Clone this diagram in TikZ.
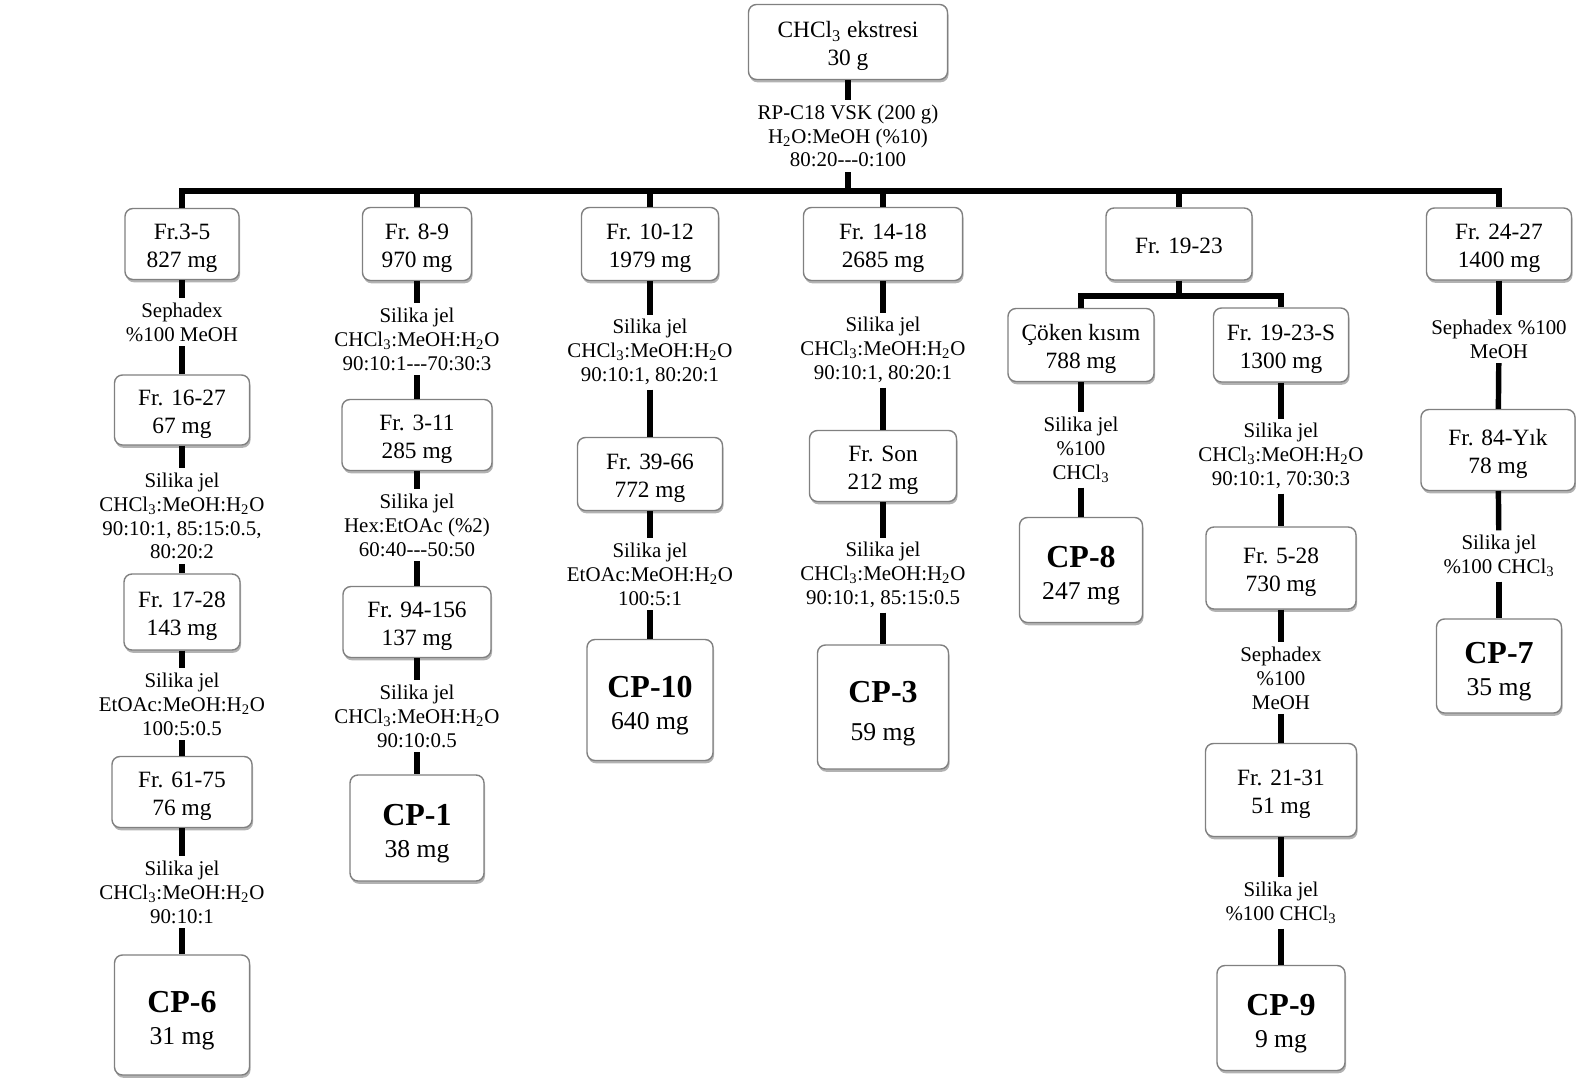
\documentclass[tikz,border=0pt]{standalone}
\usepackage{fontspec}
\setmainfont{Liberation Serif}
\usetikzlibrary{shadows}

\newcommand\boxfont{\fontsize{13.3}{15.9}\selectfont}
\newcommand\lblfont{\fontsize{11.9}{13.6}\selectfont}
\newcommand\cpfont{\fontsize{14.6}{18.2}\selectfont}
\newcommand\cpname[1]{{\fontsize{18.2}{18.2}\selectfont\bfseries #1}}
\newcommand\chcl{CHCl\textsubscript{3}}
\newcommand\hoh{H\textsubscript{2}O}
\newcommand\tridash{\mbox{-}\mbox{-}\mbox{-}}

\begin{document}
\begin{tikzpicture}[
        x=0.02cm, y=-0.02cm,
        every node/.style={align=center},
        frame/.style={
            draw=black!50,
            line width=0.8pt,
            rounded corners=4.5pt,
            fill=white,
            inner sep=0pt,
            font=\boxfont,
            drop shadow={shadow xshift=0.6pt, shadow yshift=-1.6pt, fill=black, opacity=0.3}
        },
        box/.style={frame, execute at begin node={\rule{0pt}{29.5pt}}},
        onebox/.style={frame, execute at begin node={\rule{0pt}{11.5pt}}},
        cp/.style={frame, font=\cpfont, execute at begin node={\rule{0pt}{36.5pt}}},
        lbl/.style={inner sep=2.5pt, font=\lblfont},
        conn/.style={line width=3.1pt},
        sz/.style 2 args={minimum width=#1*0.02cm, minimum height=#2*0.02cm}
    ]
        \useasboundingbox (0,0) rectangle (1576,1078);

        \node[box, sz={199}{75}] (top) at (848,42) {\chcl{} ekstresi\\30 g};
        \node[lbl] (rp) at (848,136) {RP-C18 VSK (200 g)\\\hoh:MeOH (\%10)\\80:20\tridash0:100};
        \coordinate (bus) at (848,191);

        \node[box, sz={114}{71}] (a1) at (182,244) {Fr.3-5\\827 mg};
        \node[lbl] (a1s) at (182,322) {Sephadex\\\%100 MeOH};
        \node[box, sz={135}{70}] (a2) at (182,410) {Fr. 16-27\\67 mg};
        \node[lbl] (a2s) at (182,516) {Silika jel\\\chcl:MeOH:\hoh\\90:10:1, 85:15:0.5,\\80:20:2};
        \node[box, sz={116}{76}] (a3) at (182,612) {Fr. 17-28\\143 mg};
        \node[lbl] (a3s) at (182,704) {Silika jel\\EtOAc:MeOH:\hoh\\100:5:0.5};
        \node[box, sz={140}{71}] (a4) at (182,792) {Fr. 61-75\\76 mg};
        \node[lbl] (a4s) at (182,892) {Silika jel\\\chcl:MeOH:\hoh\\90:10:1};
        \node[cp, sz={135}{120}] (cp6) at (182,1015) {\cpname{CP-6}\\31 mg};

        \node[box, sz={109}{73}] (b1) at (417,244) {Fr. 8-9\\970 mg};
        \node[lbl] (b1s) at (417,339) {Silika jel\\\chcl:MeOH:\hoh\\90:10:1\tridash70:30:3};
        \node[box, sz={150}{71}] (b2) at (417,435) {Fr. 3-11\\285 mg};
        \node[lbl] (b2s) at (417,525) {Silika jel\\Hex:EtOAc (\%2)\\60:40\tridash50:50};
        \node[box, sz={148}{71}] (b3) at (417,622) {Fr. 94-156\\137 mg};
        \node[lbl] (b3s) at (417,716) {Silika jel\\\chcl:MeOH:\hoh\\90:10:0.5};
        \node[cp, sz={134}{106}] (cp1) at (417,828) {\cpname{CP-1}\\38 mg};

        \node[box, sz={137}{73}] (c1) at (650,244) {Fr. 10-12\\1979 mg};
        \node[lbl] (c1s) at (650,352) {Silika jel\\\chcl:MeOH:\hoh\\90:10:1, 80:20:1};
        \node[box, sz={145}{73}] (c2) at (650,474) {Fr. 39-66\\772 mg};
        \node[lbl] (c2s) at (650,574) {Silika jel\\EtOAc:MeOH:\hoh\\100:5:1};
        \node[cp, sz={126}{121}] (cp10) at (650,700) {\cpname{CP-10}\\640 mg};

        \node[box, sz={159}{73}] (d1) at (883,244) {Fr. 14-18\\2685 mg};
        \node[lbl] (d1s) at (883,350) {Silika jel\\\chcl:MeOH:\hoh\\90:10:1, 80:20:1};
        \node[box, sz={147}{71}] (d2) at (883,466) {Fr. Son\\212 mg};
        \node[lbl] (d2s) at (883,575) {Silika jel\\\chcl:MeOH:\hoh\\90:10:1, 85:15:0.5};
        \node[cp, sz={131}{124}, execute at begin node={\rule{0pt}{41.5pt}}] (cp3) at (883,707) {\cpname{CP-3}\\[3.4pt]59 mg};

        \node[onebox, sz={146}{72}] (e1) at (1179,244) {Fr. 19-23};
        \coordinate (sub) at (1179,296);
        \node[box, sz={146}{73}] (e2) at (1081,345) {Çöken kısım\\788 mg};
        \node[lbl] (e2s) at (1081,450) {Silika jel\\\%100\\\chcl};
        \node[cp, sz={123}{105}] (cp8) at (1081,570) {\cpname{CP-8}\\247 mg};
        \node[box, sz={135}{74}] (e3) at (1281,345) {Fr. 19-23-S\\1300 mg};
        \node[lbl] (e3s) at (1281,456) {Silika jel\\\chcl:MeOH:\hoh\\90:10:1, 70:30:3};
        \node[box, sz={150}{82}] (e4) at (1281,568) {Fr. 5-28\\730 mg};
        \node[lbl] (e4s) at (1281,678) {Sephadex\\\%100\\MeOH};
        \node[box, sz={151}{93}] (e5) at (1281,790) {Fr. 21-31\\51 mg};
        \node[lbl] (e5s) at (1281,903) {Silika jel\\\%100 \chcl};
        \node[cp, sz={128}{105}] (cp9) at (1281,1018) {\cpname{CP-9}\\9 mg};

        \node[box, sz={145}{72}] (f1) at (1499,244) {Fr. 24-27\\1400 mg};
        \node[lbl] (f1s) at (1499,339) {Sephadex \%100\\MeOH};
        \node[box, sz={154}{81}] (f2) at (1498,450) {Fr. 84-Yık\\78 mg};
        \node[lbl] (f2s) at (1499,556) {Silika jel\\\%100 \chcl};
        \node[cp, sz={125}{94}] (cp7) at (1499,666) {\cpname{CP-7}\\35 mg};

        \draw[conn] (top) -- (rp);
        \draw[conn] (rp) -- (bus);
        \foreach \n in {a1,b1,c1,d1,e1,f1}
            \draw[conn] (bus) -| (\n);
        \draw[conn] (e1) -- (sub);
        \draw[conn] (sub) -| (e2);
        \draw[conn] (sub) -| (e3);

        \foreach \u/\v in {a1/a1s, a1s/a2, a2/a2s, a2s/a3, a3/a3s, a3s/a4, a4/a4s, a4s/cp6,
                b1/b1s, b1s/b2, b2/b2s, b2s/b3, b3/b3s, b3s/cp1,
                c1/c1s, c1s/c2, c2/c2s, c2s/cp10,
                d1/d1s, d1s/d2, d2/d2s, d2s/cp3,
                e2/e2s, e2s/cp8, e3/e3s, e3s/e4, e4/e4s, e4s/e5, e5/e5s, e5s/cp9,
                f1/f1s, f1s/f2, f2/f2s, f2s/cp7}
            \draw[conn] (\u) -- (\v);
    \end{tikzpicture}
\end{document}
